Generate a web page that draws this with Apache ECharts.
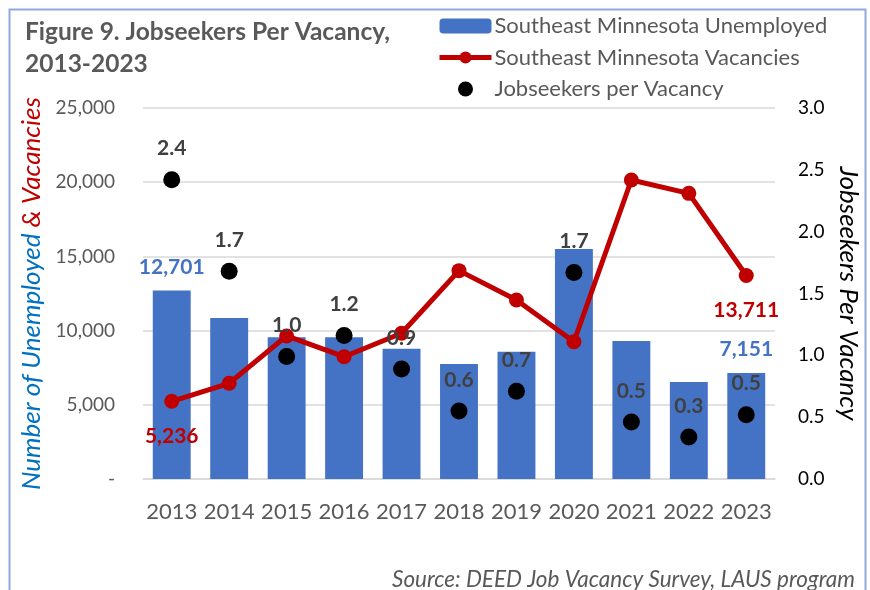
<!DOCTYPE html>
<html>
<head>
<meta charset="utf-8">
<title>Jobseekers Per Vacancy</title>
<script src="https://cdn.jsdelivr.net/npm/echarts@6/dist/echarts.min.js"></script>
<style>
  html, body { margin: 0; padding: 0; background: #fff; }
  #chart { width: 870px; height: 590px; }
</style>
</head>
<body>
<div id="chart"></div>
<script>
// data
var years = ['2013', '2014', '2015', '2016', '2017', '2018', '2019', '2020', '2021', '2022', '2023'];
var unemployed = [12701, 10850, 9550, 9550, 8780, 7750, 8580, 15500, 9300, 6540, 7151];
var vacancies = [5236, 6450, 9640, 8240, 9820, 14040, 12060, 9250, 20150, 19250, 13711];
var perVacancy = [2.4, 1.7, 1.0, 1.2, 0.9, 0.6, 0.7, 1.7, 0.5, 0.3, 0.5];
var perVacancyPos = [2.42, 1.68, 0.99, 1.16, 0.89, 0.55, 0.71, 1.67, 0.46, 0.34, 0.52];

var FONT = 'Lato';
var GREY = '#595959';

function fmt(v) {
    return Number(v).toLocaleString('en-US');
}

// only first and last bar / line point carry a label
function edgeLabels(values, labelOpt) {
    return values.map(function (v, i) {
        if (i === 0 || i === values.length - 1) {
            return { value: v, label: labelOpt };
        }
        return v;
    });
}

var barLabel = {
    show: true, position: 'top', distance: 13,
    formatter: function (p) { return fmt(p.value); },
    color: '#4472C4', fontFamily: FONT, fontWeight: 'bold', fontSize: 21
};
var lineLabel = {
    show: true, position: 'bottom', distance: 17,
    formatter: function (p) { return fmt(p.value); },
    color: '#C00000', fontFamily: FONT, fontWeight: 'bold', fontSize: 21
};

var option = {
    animation: false,
    backgroundColor: '#fff',
    textStyle: { fontFamily: FONT },
    title: [{
        text: 'Figure 9. Jobseekers Per Vacancy,\n2013-2023',
        left: 20, top: 11,
        textStyle: { fontFamily: FONT, fontSize: 24.5, fontWeight: 'bold', color: GREY, lineHeight: 32 }
    }, {
        text: 'Source: DEED Job Vacancy Survey, LAUS program',
        right: 10, top: 563,
        textStyle: { fontFamily: FONT, fontSize: 22.5, fontStyle: 'italic', fontWeight: 'normal', color: GREY }
    }],
    legend: {
        orient: 'vertical',
        left: 432, top: 10,
        itemWidth: 52, itemHeight: 15, itemGap: 9.5,
        textStyle: { fontFamily: FONT, fontSize: 22, color: GREY, lineHeight: 22, padding: [0, 0, 0, -2] },
        data: [
            'Southeast Minnesota Unemployed',
            { name: 'Southeast Minnesota Vacancies', lineStyle: { width: 5 } },
            'Jobseekers per Vacancy'
        ]
    },
    grid: { left: 143, right: 95, top: 108, bottom: 111 },
    xAxis: {
        type: 'category',
        data: years,
        axisTick: { show: false },
        axisLine: { lineStyle: { color: '#D9D9D9', width: 1.5 } },
        axisLabel: { fontFamily: FONT, fontSize: 22, color: GREY, margin: 22, interval: 0 }
    },
    yAxis: [{
        type: 'value', min: 0, max: 25000, interval: 5000,
        axisLine: { show: false }, axisTick: { show: false },
        splitLine: { lineStyle: { color: '#D9D9D9', width: 1.5 } },
        axisLabel: {
            fontFamily: FONT, fontSize: 19, color: GREY, margin: 28,
            formatter: function (v) { return v === 0 ? '-' : fmt(v); }
        },
        name: '{b|Number of Unemployed }{r|& Vacancies}',
        nameLocation: 'middle', nameRotate: 90, nameGap: 98,
        nameTextStyle: {
            rich: {
                b: { color: '#0070C0', fontFamily: FONT, fontSize: 26, fontStyle: 'italic' },
                r: { color: '#C00000', fontFamily: FONT, fontSize: 26, fontStyle: 'italic' }
            }
        }
    }, {
        type: 'value', min: 0, max: 3, interval: 0.5,
        axisLine: { show: false }, axisTick: { show: false },
        splitLine: { show: false },
        axisLabel: {
            fontFamily: FONT, fontSize: 19, color: '#000', margin: 23,
            formatter: function (v) { return v.toFixed(1); }
        },
        name: 'Jobseekers Per Vacancy',
        nameLocation: 'middle', nameRotate: -90, nameGap: 60,
        nameTextStyle: { fontFamily: FONT, fontSize: 26, fontStyle: 'italic', color: '#000' }
    }],
    series: [{
        name: 'Southeast Minnesota Unemployed',
        type: 'bar',
        barWidth: '66%',
        itemStyle: { color: '#4472C4' },
        data: edgeLabels(unemployed, barLabel)
    }, {
        name: 'Southeast Minnesota Vacancies',
        type: 'line',
        symbol: 'circle', symbolSize: 15,
        lineStyle: { color: '#C00000', width: 5 },
        itemStyle: { color: '#C00000' },
        data: edgeLabels(vacancies, lineLabel),
        z: 3
    }, {
        name: 'Jobseekers per Vacancy',
        type: 'scatter',
        yAxisIndex: 1,
        symbolSize: 17,
        itemStyle: { color: '#000', opacity: 1 },
        label: {
            show: true, position: 'top', distance: 12,
            formatter: function (p) { return perVacancy[p.dataIndex].toFixed(1); },
            color: '#404040', fontFamily: FONT, fontWeight: 'bold', fontSize: 21
        },
        data: perVacancyPos,
        z: 4
    }],
    graphic: [{
        type: 'rect',
        silent: true,
        shape: { x: 9.5, y: 9.5, width: 856, height: 620 },
        style: { fill: 'none', stroke: '#8FAADC', lineWidth: 2 }
    }]
};

var myChart = echarts.init(document.getElementById('chart'));
myChart.setOption(option);
</script>
</body>
</html>
